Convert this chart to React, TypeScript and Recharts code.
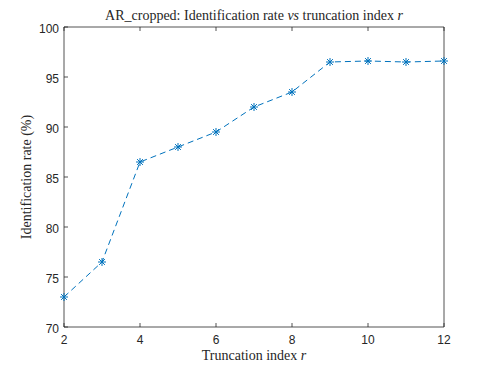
import React from 'react';
import { LineChart, Line, XAxis, YAxis, Label } from 'recharts';

const truncIndex = [2, 3, 4, 5, 6, 7, 8, 9, 10, 11, 12];
const idRate = [73, 76.5, 86.5, 88, 89.5, 92, 93.5, 96.5, 96.6, 96.5, 96.6];
const xTicks = [2, 4, 6, 8, 10, 12];
const yTicks = [70, 75, 80, 85, 90, 95, 100];

const data = truncIndex.map((r, i) => ({ r, rate: idRate[i] }));

const AX = '#262626';
const BLUE = '#0072BD';
const SERIF = '"Liberation Serif", "DejaVu Serif", serif';
const SANS = '"Liberation Sans", Arial, sans-serif';

const Star = (props: any) => {
    const { cx, cy } = props;
    if (cx == null || cy == null) return null;
    const s = 4;
    const d = 2.9;
    return (
        <g stroke={BLUE} strokeWidth={1}>
            <line x1={cx - s} y1={cy} x2={cx + s} y2={cy} />
            <line x1={cx} y1={cy - s} x2={cx} y2={cy + s} />
            <line x1={cx - d} y1={cy - d} x2={cx + d} y2={cy + d} />
            <line x1={cx - d} y1={cy + d} x2={cx + d} y2={cy - d} />
        </g>
    );
};

const M = 12; // tick margin, tick lines drawn inward by hand

const BottomTick = (props: any) => {
    const { x, y, payload } = props;
    const ay = y - M;
    return (
        <g>
            <line x1={x} x2={x} y1={ay} y2={ay - 4} stroke={AX} strokeWidth={0.8} />
            <text x={x} y={y + 5} textAnchor="middle" fill={AX} fontSize={12} fontFamily={SANS}>
                {payload.value}
            </text>
        </g>
    );
};

const TopTick = (props: any) => {
    const { x, y } = props;
    const ay = y + M;
    return <line x1={x} x2={x} y1={ay} y2={ay + 4} stroke={AX} strokeWidth={0.8} />;
};

const LeftTick = (props: any) => {
    const { x, y, payload } = props;
    const ax = x + M;
    return (
        <g>
            <line x1={ax} x2={ax + 4} y1={y} y2={y} stroke={AX} strokeWidth={0.8} />
            <text x={x + 7} y={y + 6} textAnchor="end" fill={AX} fontSize={12} fontFamily={SANS}>
                {payload.value}
            </text>
        </g>
    );
};

const RightTick = (props: any) => {
    const { x, y } = props;
    const ax = x - M;
    return <line x1={ax} x2={ax - 4} y1={y} y2={y} stroke={AX} strokeWidth={0.8} />;
};

export default function App() {
    return (
        <div style={{ position: 'absolute', left: 0, top: 0, background: '#fff' }}>
            <LineChart width={491} height={368} data={data} margin={{ top: 26, right: 46, bottom: 0, left: 0 }}>
                <XAxis
                    xAxisId="b"
                    dataKey="r"
                    type="number"
                    domain={[2, 12]}
                    ticks={xTicks}
                    height={41}
                    tickSize={0}
                    tickMargin={M}
                    tickLine={false}
                    tick={<BottomTick />}
                    axisLine={{ stroke: AX, strokeWidth: 0.8 }}
                >
                    <Label
                        content={(p: any) => {
                            const vb = p.viewBox;
                            return (
                                <text x={vb.x + vb.width / 2} y={vb.y + 33} textAnchor="middle" fill={AX} fontSize={14} fontFamily={SERIF}>
                                    Truncation index <tspan fontStyle="italic">r</tspan>
                                </text>
                            );
                        }}
                    />
                </XAxis>
                <XAxis
                    xAxisId="t"
                    dataKey="r"
                    type="number"
                    orientation="top"
                    domain={[2, 12]}
                    ticks={xTicks}
                    height={1}
                    tickSize={0}
                    tickMargin={M}
                    tickLine={false}
                    tick={<TopTick />}
                    axisLine={{ stroke: AX, strokeWidth: 0.8 }}
                >
                    <Label
                        content={(p: any) => {
                            const vb = p.viewBox;
                            return (
                                <text x={vb.x + vb.width / 2} y={20} textAnchor="middle" fill={AX} fontSize={14} fontFamily={SERIF}>
                                    AR_cropped: Identification rate <tspan fontStyle="italic">vs</tspan> truncation index{' '}
                                    <tspan fontStyle="italic">r</tspan>
                                </text>
                            );
                        }}
                    />
                </XAxis>
                <YAxis
                    yAxisId="l"
                    type="number"
                    domain={[70, 100]}
                    ticks={yTicks}
                    width={64}
                    tickSize={0}
                    tickMargin={M}
                    tickLine={false}
                    tick={<LeftTick />}
                    axisLine={{ stroke: AX, strokeWidth: 0.8 }}
                >
                    <Label
                        content={(p: any) => {
                            const vb = p.viewBox;
                            const cy = vb.y + vb.height / 2;
                            return (
                                <text
                                    x={31}
                                    y={cy}
                                    transform={`rotate(-90 31 ${cy})`}
                                    textAnchor="middle"
                                    fill={AX}
                                    fontSize={14}
                                    fontFamily={SERIF}
                                >
                                    Identification rate (%)
                                </text>
                            );
                        }}
                    />
                </YAxis>
                <YAxis
                    yAxisId="r"
                    orientation="right"
                    type="number"
                    domain={[70, 100]}
                    ticks={yTicks}
                    width={1}
                    tickSize={0}
                    tickMargin={M}
                    tickLine={false}
                    tick={<RightTick />}
                    axisLine={{ stroke: AX, strokeWidth: 0.8 }}
                />
                <Line
                    xAxisId="b"
                    yAxisId="l"
                    dataKey="rate"
                    type="linear"
                    stroke={BLUE}
                    strokeWidth={1}
                    strokeDasharray="6 4"
                    dot={<Star />}
                    activeDot={false}
                    isAnimationActive={false}
                />
            </LineChart>
        </div>
    );
}
